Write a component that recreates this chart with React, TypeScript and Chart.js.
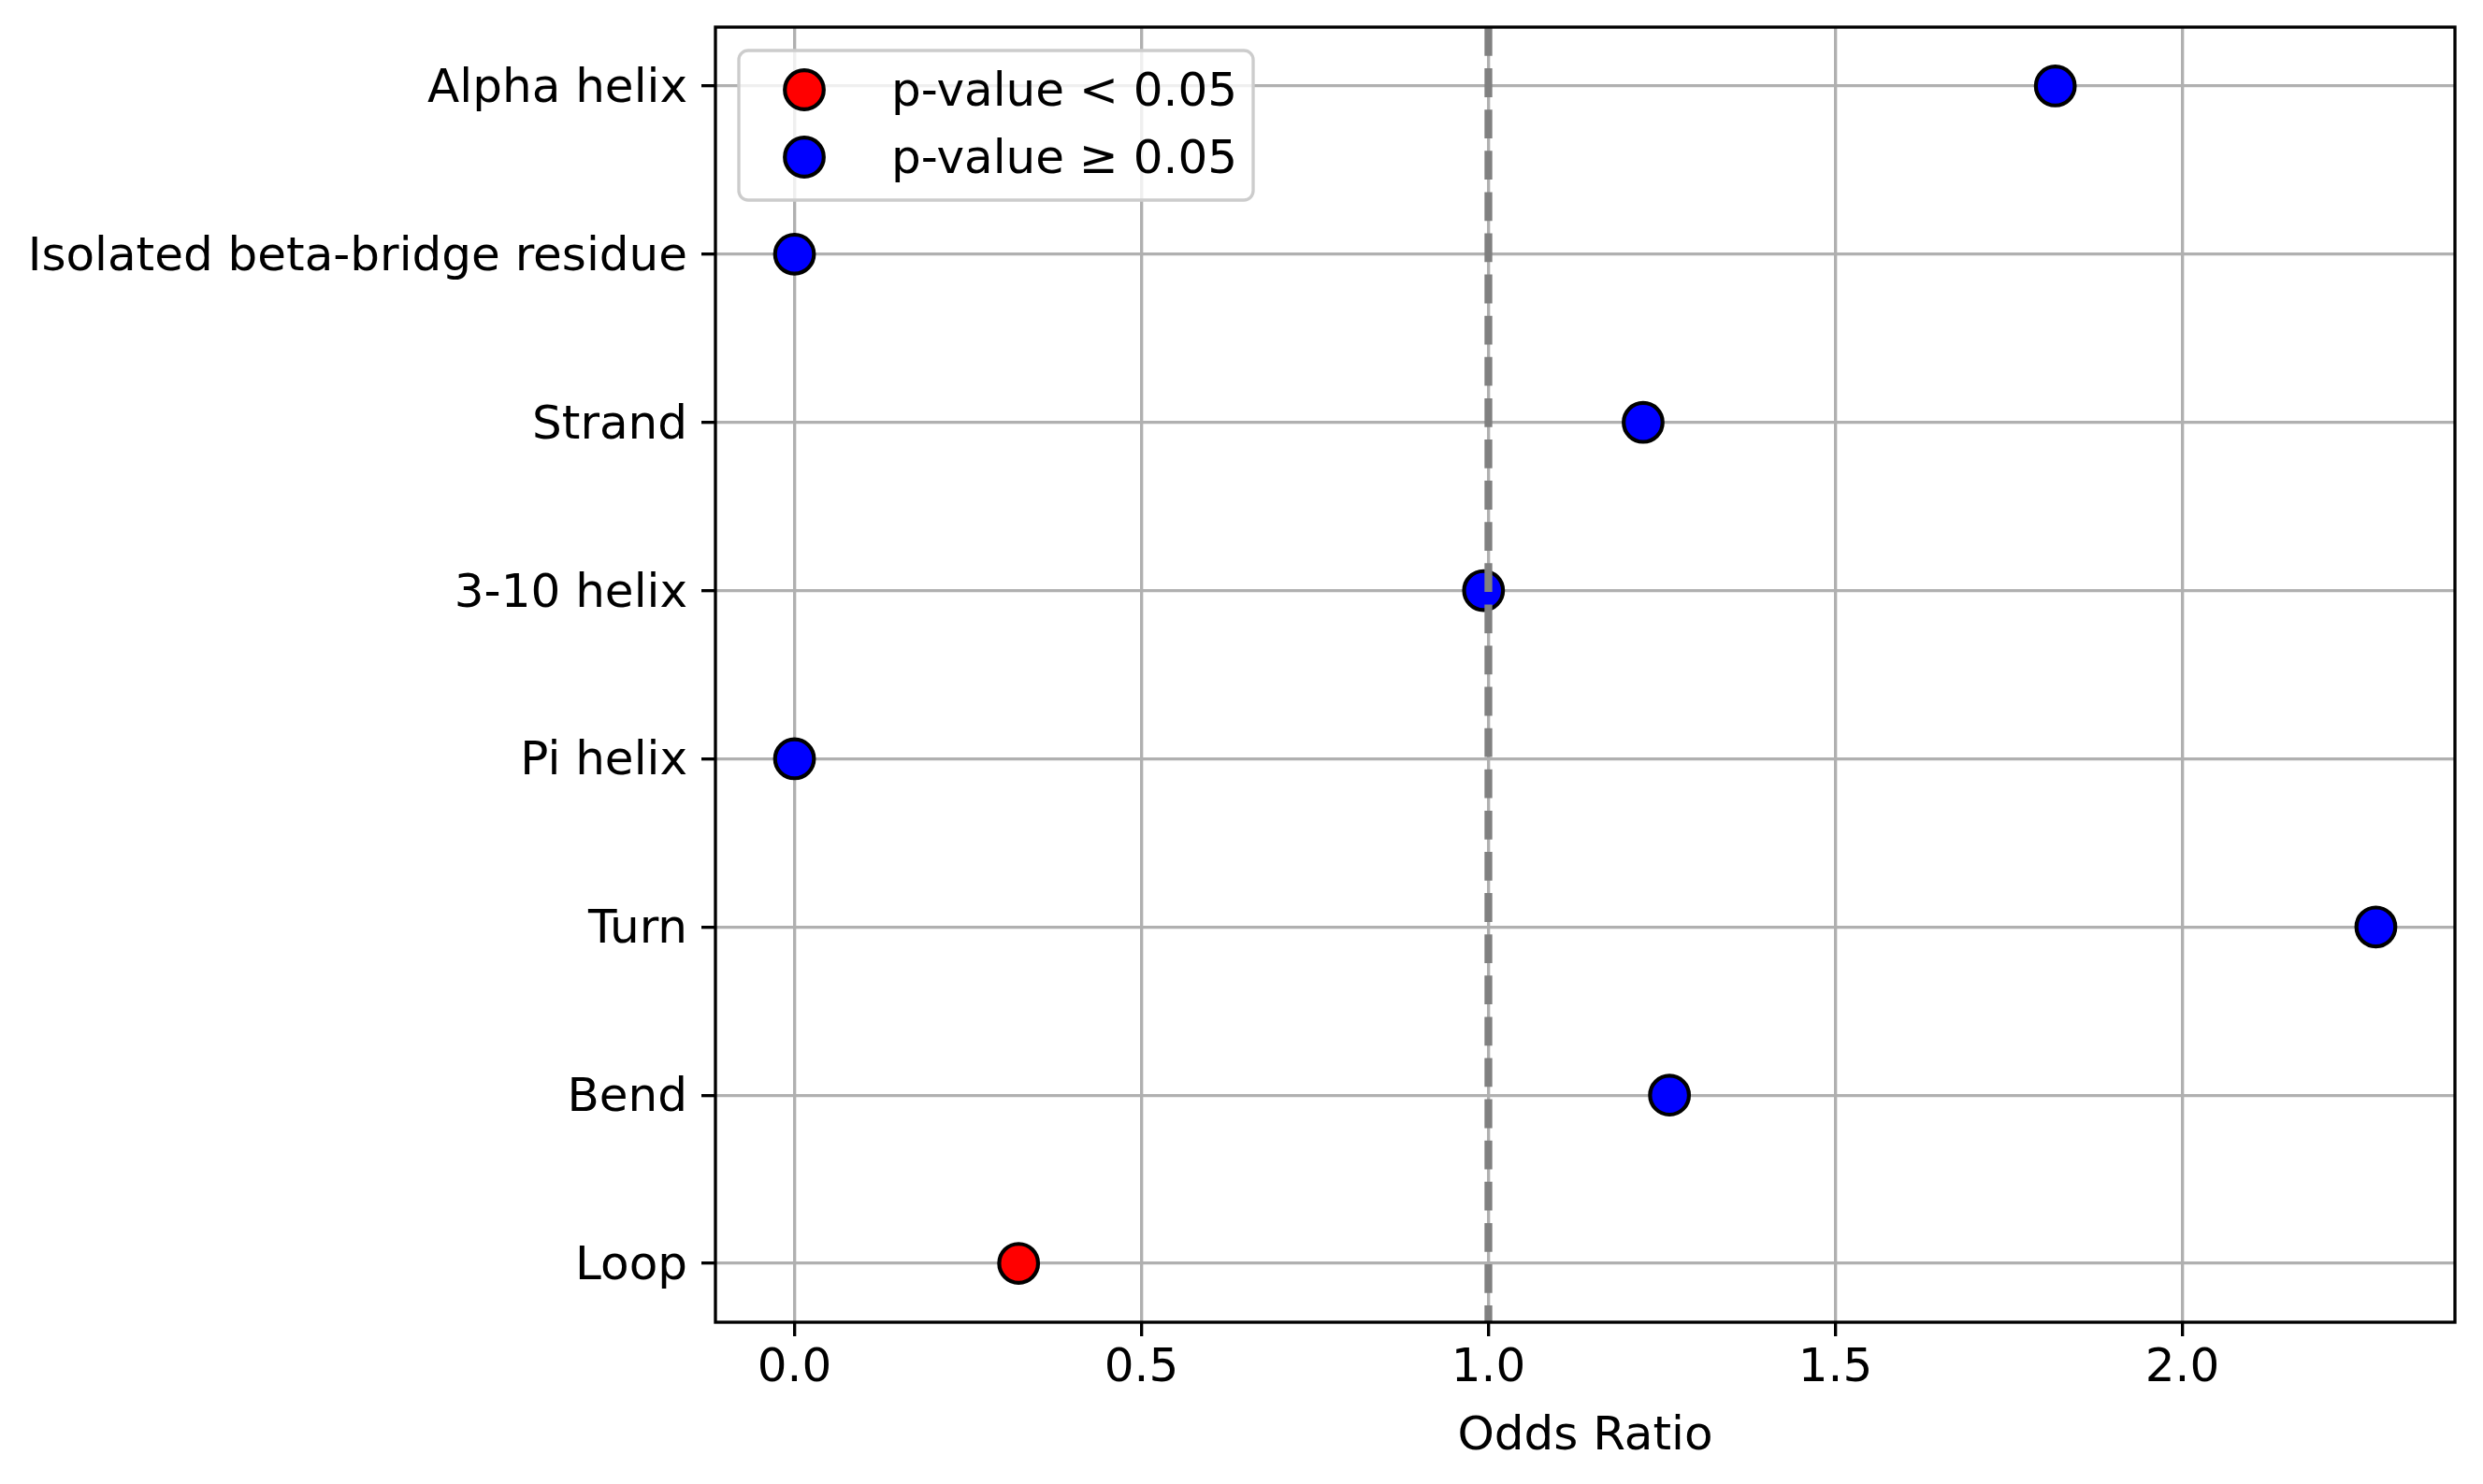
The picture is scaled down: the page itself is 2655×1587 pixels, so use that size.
import { useRef, useEffect } from 'react';
import { Chart, registerables, type ChartOptions, type Plugin } from 'chart.js';

Chart.register(...registerables);

const categories = [
  'Alpha helix',
  'Isolated beta-bridge residue',
  'Strand',
  '3-10 helix',
  'Pi helix',
  'Turn',
  'Bend',
  'Loop',
];
const oddsRatio = [1.817, 0, 1.223, 0.993, 0, 2.279, 1.261, 0.323];
const significant = [false, false, false, false, false, false, false, true];
const xTicks = [0, 0.5, 1.0, 1.5, 2.0];
const referenceLine = 1;
const legendLabels = ['p-value < 0.05', 'p-value ≥ 0.05'];
const legendColors = ['red', 'blue'];

const W = 2655;
const H = 1587;
const FONT = 'DejaVu Sans';
const FS = 50;
const LW = 3.33;

const App = () => {
  const chartRef = useRef<HTMLCanvasElement | null>(null);
  const chartInstance = useRef<Chart<'scatter'> | null>(null);

  useEffect(() => {
    if (!chartRef.current) return;
    document.body.style.margin = '0';

    // matplotlib style 5% margins
    const lo = Math.min(...oddsRatio);
    const hi = Math.max(...oddsRatio);
    const pad = (hi - lo) * 0.05;
    const yPad = (categories.length - 1) * 0.05;

    const points = (sig: boolean) =>
      oddsRatio
        .map((v, i) => ({ x: v, y: i, s: significant[i] }))
        .filter((p) => p.s === sig)
        .map(({ x, y }) => ({ x, y }));

    const overlay: Plugin<'scatter'> = {
      id: 'overlay',
      afterDraw: (chart) => {
        const { ctx, chartArea } = chart;
        const { left, top, right, bottom } = chartArea;
        const xs = chart.scales.x;
        ctx.save();

        // dashed reference line
        const rx = xs.getPixelForValue(referenceLine);
        ctx.strokeStyle = 'gray';
        ctx.lineWidth = 8.3;
        ctx.setLineDash([30.8, 13.3]);
        ctx.beginPath();
        ctx.moveTo(rx, top);
        ctx.lineTo(rx, bottom);
        ctx.stroke();
        ctx.setLineDash([]);

        // frame
        ctx.strokeStyle = 'black';
        ctx.lineWidth = LW;
        ctx.strokeRect(left, top, right - left, bottom - top);

        // legend
        const bx = left + 25;
        const by = top + 25;
        const bw = 550;
        const bh = 160;
        ctx.beginPath();
        ctx.roundRect(bx, by, bw, bh, 10);
        ctx.fillStyle = 'rgba(255,255,255,0.8)';
        ctx.fill();
        ctx.strokeStyle = '#cccccc';
        ctx.lineWidth = LW;
        ctx.stroke();

        ctx.font = `${FS}px "${FONT}"`;
        ctx.textAlign = 'left';
        ctx.textBaseline = 'middle';
        legendLabels.forEach((label, i) => {
          const cy = by + 42 + i * 72;
          ctx.beginPath();
          ctx.arc(bx + 70, cy, 20.8, 0, Math.PI * 2);
          ctx.fillStyle = legendColors[i];
          ctx.fill();
          ctx.strokeStyle = 'black';
          ctx.lineWidth = 4.2;
          ctx.stroke();
          ctx.fillStyle = 'black';
          ctx.fillText(label, bx + 163, cy + 4);
        });
        ctx.restore();
      },
    };

    const options: ChartOptions<'scatter'> = {
      responsive: false,
      maintainAspectRatio: false,
      animation: false,
      devicePixelRatio: 1,
      layout: { padding: { top: 29, right: 30, left: 0, bottom: 0 } },
      plugins: {
        legend: { display: false },
        tooltip: { enabled: false },
      },
      scales: {
        x: {
          type: 'linear',
          min: lo - pad,
          max: hi + pad,
          z: 1,
          afterBuildTicks: (scale) => {
            scale.ticks = xTicks.map((v) => ({ value: v }));
          },
          afterFit: (scale) => {
            scale.height = H - 1414;
            scale.paddingLeft = 0;
            scale.paddingRight = 0;
          },
          grid: {
            color: '#b0b0b0',
            lineWidth: LW,
            tickColor: 'black',
            tickWidth: LW,
            tickLength: 15,
          },
          border: { display: false },
          ticks: {
            color: 'black',
            padding: 5,
            font: { size: FS, family: FONT },
            callback: (v) => Number(v).toFixed(1),
          },
          title: {
            display: true,
            text: 'Odds Ratio',
            color: 'black',
            font: { size: FS, family: FONT },
            padding: { top: 0, bottom: 20 },
          },
        },
        y: {
          type: 'linear',
          reverse: true,
          min: -yPad,
          max: categories.length - 1 + yPad,
          z: 1,
          afterBuildTicks: (scale) => {
            scale.ticks = categories.map((_, i) => ({ value: i }));
          },
          afterFit: (scale) => {
            scale.width = 765;
            scale.paddingTop = 0;
            scale.paddingBottom = 0;
          },
          grid: {
            color: '#b0b0b0',
            lineWidth: LW,
            tickColor: 'black',
            tickWidth: LW,
            tickLength: 15,
          },
          border: { display: false },
          ticks: {
            color: 'black',
            padding: 15,
            // empty first line nudges the label down a few px, like matplotlib's baseline
            font: { size: FS, family: FONT, lineHeight: '8px' },
            callback: (v) => ['', categories[Number(v)] ?? ''],
          },
        },
      },
    };

    if (chartInstance.current) {
      chartInstance.current.destroy();
    }

    chartInstance.current = new Chart(chartRef.current, {
      type: 'scatter',
      data: {
        datasets: [
          {
            label: legendLabels[0],
            data: points(true),
            backgroundColor: legendColors[0],
            borderColor: 'black',
            borderWidth: 4.2,
            pointRadius: 20.8,
            pointHoverRadius: 20.8,
          },
          {
            label: legendLabels[1],
            data: points(false),
            backgroundColor: legendColors[1],
            borderColor: 'black',
            borderWidth: 4.2,
            pointRadius: 20.8,
            pointHoverRadius: 20.8,
          },
        ],
      },
      options,
      plugins: [overlay],
    });

    return () => {
      chartInstance.current?.destroy();
      chartInstance.current = null;
    };
  }, []);

  return (
    <div style={{ position: 'absolute', left: 0, top: 0, width: W, height: H, background: 'white' }}>
      <canvas ref={chartRef} width={W} height={H} style={{ width: W, height: H }} />
    </div>
  );
};

export default App;
